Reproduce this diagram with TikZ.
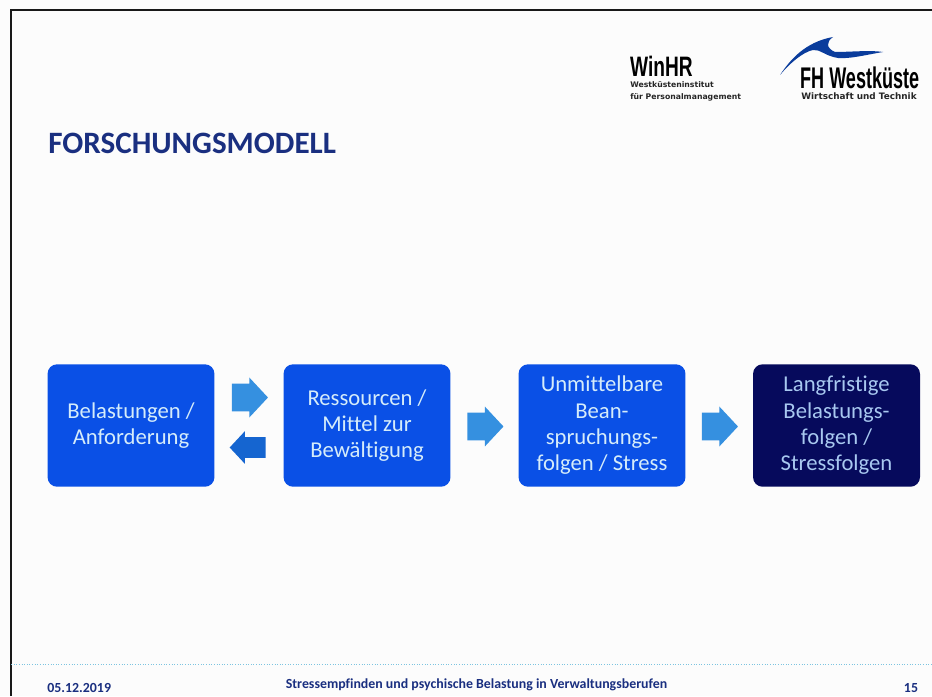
\documentclass[tikz,border=0pt]{standalone}
\usepackage{fontspec}
\setmainfont[Ligatures=NoCommon]{Carlito}
\newfontfamily\logofont{Liberation Sans}
\newfontfamily\logosubfont{DejaVu Sans}
\usetikzlibrary{shapes.arrows}
\definecolor{boxblue}{HTML}{0A50E6}
\definecolor{boxdark}{HTML}{060A5C}
\definecolor{boxtext}{HTML}{D5ECFA}
\definecolor{darktext}{HTML}{A8C8F0}
\definecolor{arrowblue}{HTML}{3590E0}
\definecolor{arrowback}{HTML}{1565D0}
\definecolor{titleblue}{HTML}{1A2F80}
\definecolor{rulecyan}{HTML}{7CC4E0}
\definecolor{wavelogo}{HTML}{0A3C9C}
\tikzset{
  modelbox/.style={rectangle, rounded corners=5.5pt, minimum width=3.34cm, minimum height=2.45cm,
    inner sep=0pt, align=center, text=boxtext, fill=boxblue, font=\fontsize{12.9}{15}\selectfont},
  blockarrow/.style={single arrow, inner xsep=0pt, inner ysep=0.27cm, minimum height=0.72cm,
    single arrow head extend=0.12cm, single arrow tip angle=94, fill=arrowblue},
  footertext/.style={text=titleblue, font=\fontsize{7.9}{9}\selectfont\bfseries, inner sep=0pt},
  logobig/.style={font=\logofont\bfseries\fontsize{16}{17}\selectfont, inner sep=0pt, text=black, xscale=0.68},
  logosmall/.style={font=\logosubfont\bfseries\fontsize{4.4}{6.5}\selectfont, inner sep=0pt, text=black!85, align=left}
}
\begin{document}
\begin{tikzpicture}[x=0.02cm, y=-0.02cm]

% Page area
\useasboundingbox (0,0) rectangle (932,696);
\fill[black!1] (0,0) rectangle (932,696);

% Scan edges
\draw[line width=1.6pt, black!90] (11,696) -- (11,10) -- (932,10);

% Logo WinHR
\node[logobig, anchor=west] (winhr) at (630,66) {WinHR};
\node[logosmall, anchor=north west] (winsub) at (630,81.5) {Westküsteninstitut\\für Personalmanagement};

% Logo FH Westkueste
\fill[wavelogo] (780,75) .. controls (790,60) and (805,42) .. (833,37)
  .. controls (826,42) and (826,48) .. (835,52) .. controls (850,52) and (870,50) .. (883,52)
  .. controls (865,55) and (850,59) .. (838,58) .. controls (825,56) and (820,49) .. (813,50)
  .. controls (803,52) and (790,63) .. (780,75);
\node[logobig, anchor=west, xscale=0.888, font=\logofont\bfseries\fontsize{17}{18}\selectfont] (fhname) at (800,78) {FH Westküste};
\node[logosmall, anchor=west, font=\logosubfont\bfseries\fontsize{5.05}{6}\selectfont] (fhsub) at (801,96) {Wirtschaft und Technik};

% Title
\node[anchor=west, inner sep=0pt, text=titleblue, font=\fontsize{17.7}{20}\selectfont\bfseries] (title) at (48,143) {FORSCHUNGSMODELL};

% Boxes
\node[modelbox] (belastung) at (131,425.5) {Belastungen /\\Anforderung};
\node[modelbox] (ressourcen) at (367,425.5) {Ressourcen /\\Mittel zur\\Bewältigung};
\node[modelbox] (unmittelbar) at (602,425.5) {Unmittelbare\\Bean-\\spruchungs-\\folgen / Stress};
\node[modelbox, fill=boxdark, text=darktext] (langfristig) at (836.5,425.5) {Langfristige\\Belastungs-\\folgen /\\Stressfolgen};

% Arrows between the boxes
\node[blockarrow] (forward) at (243.5,397.5) {};
\node[blockarrow, shape border rotate=180, fill=arrowback, inner ysep=0.2cm] (backward) at (252.5,447.5) {};
\node[blockarrow] (arrowthree) at (479,426.5) {};
\node[blockarrow] (arrowfour) at (713.5,426.5) {};

% Footer
\draw[rulecyan, line width=0.5pt, densely dotted] (11,664) -- (932,664);
\node[footertext, anchor=west] (date) at (47,688) {05.12.2019};
\node[footertext] (footer) at (476.5,685) {Stressempfinden und psychische Belastung in Verwaltungsberufen};
\node[footertext] (pagenum) at (911,688) {15};

\end{tikzpicture}
\end{document}
